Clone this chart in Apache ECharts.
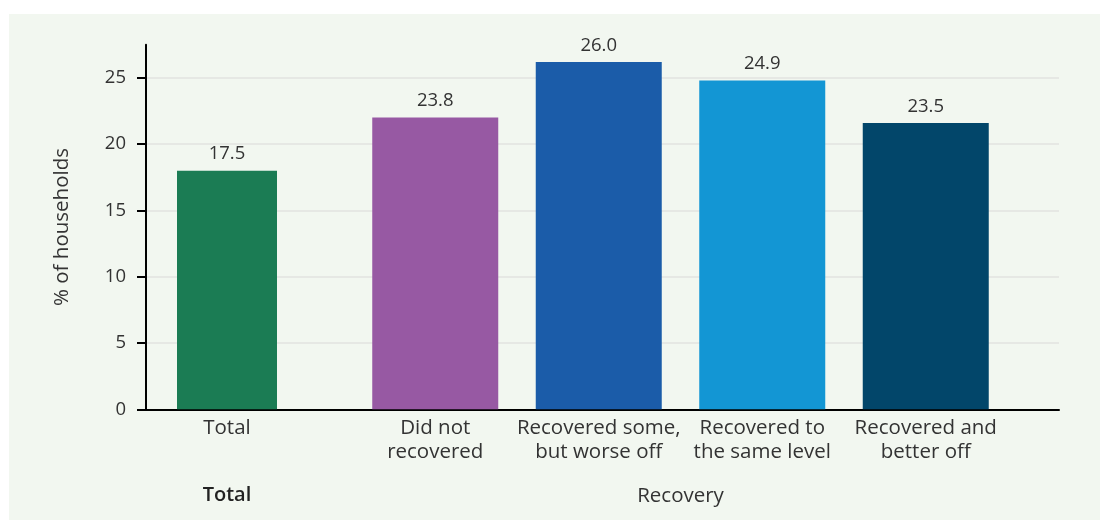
<!DOCTYPE html>
<html>
<head>
<meta charset="utf-8">
<script src="https://cdn.jsdelivr.net/npm/echarts@6/dist/echarts.min.js"></script>
<style>
html,body{margin:0;padding:0;background:#ffffff;}
#chart{width:1100px;height:520px;}
</style>
</head>
<body>
<div id="chart"></div>
<script>
// Data
const totalCategories = ['Total'];
const totalValues = [18.0];
const totalLabels = ['17.5'];
const recoveryCategories = ['Did not\nrecovered', 'Recovered some,\nbut worse off', 'Recovered to\nthe same level', 'Recovered and\nbetter off'];
const recoveryValues = [22.0, 26.2, 24.8, 21.6];
const recoveryLabels = ['23.8', '26.0', '24.9', '23.5'];
const recoveryColors = ['#9759a3', '#1b5ca9', '#1396d4', '#02466a'];
const totalColor = '#1b7c54';
const yTicks = [0, 5, 10, 15, 20, 25];
const groupNames = ['Total', 'Recovery'];
const yAxisName = '% of households';

const FONT = '"Open Sans"';
const TXT = '#333333';

const chart = echarts.init(document.getElementById('chart'), null, {renderer: 'canvas'});

const numStyle = {fontFamily: FONT, fontSize: 18.5, color: TXT};
const txtStyle = {fontFamily: FONT, fontSize: 20.5, color: TXT};

chart.setOption({
  backgroundColor: '#ffffff',
  animation: false,
  graphic: [{
    type: 'rect', z: -100, silent: true,
    shape: {x: 9, y: 14, width: 1091, height: 506},
    style: {fill: '#f2f7f0'}
  }],
  grid: [
    {left: 146, right: 41, top: 77.7, bottom: 110.7},
    {left: 146, width: 162, top: 44.7, bottom: 110.7},
    {left: 353.5, width: 654, top: 44.7, bottom: 110.7}
  ],
  xAxis: [
    {gridIndex: 0, type: 'category', data: [''], axisLine: {show: true, lineStyle: {color: '#000', width: 2}},
     axisTick: {show: false}, axisLabel: {show: false}, splitLine: {show: false}},
    {gridIndex: 1, type: 'category', data: totalCategories, axisLine: {show: false}, axisTick: {show: false},
     axisLabel: Object.assign({margin: 7, lineHeight: 24}, txtStyle),
     name: groupNames[0], nameLocation: 'middle', nameGap: 76,
     nameTextStyle: {fontFamily: FONT, fontSize: 20, fontWeight: 600, color: '#222'}},
    {gridIndex: 2, type: 'category', data: recoveryCategories, axisLine: {show: false}, axisTick: {show: false},
     axisLabel: Object.assign({margin: 7, lineHeight: 24, interval: 0}, txtStyle),
     name: groupNames[1], nameLocation: 'middle', nameGap: 76,
     nameTextStyle: {fontFamily: FONT, fontSize: 20.5, fontWeight: 'normal', color: '#333'}}
  ],
  yAxis: [
    {gridIndex: 0, type: 'value', min: yTicks[0], max: yTicks[yTicks.length - 1], interval: 5,
     axisLine: {show: false},
     axisTick: {show: true, length: 9, lineStyle: {color: '#000', width: 2}},
     axisLabel: Object.assign({margin: 20}, numStyle),
     splitLine: {show: true, lineStyle: {color: '#e6e8e4', width: 2}}},
    {gridIndex: 1, type: 'value', min: 0, max: 27.5,
     axisLine: {show: true, lineStyle: {color: '#000', width: 2}},
     axisTick: {show: false}, axisLabel: {show: false}, splitLine: {show: false},
     name: yAxisName, nameLocation: 'middle', nameGap: 73, nameRotate: 90,
     nameTextStyle: txtStyle},
    {gridIndex: 2, type: 'value', min: 0, max: 27.5, show: false}
  ],
  series: [
    {type: 'bar', xAxisIndex: 1, yAxisIndex: 1, data: totalValues, barWidth: 100,
     itemStyle: {color: totalColor},
     label: Object.assign({show: true, position: 'top', distance: 7,
       formatter: p => totalLabels[p.dataIndex]}, numStyle)},
    {type: 'bar', xAxisIndex: 2, yAxisIndex: 2, barWidth: 126,
     data: recoveryValues.map((v, i) => ({value: v, itemStyle: {color: recoveryColors[i]}})),
     label: Object.assign({show: true, position: 'top', distance: 7,
       formatter: p => recoveryLabels[p.dataIndex]}, numStyle)}
  ]
});
</script>
</body>
</html>
